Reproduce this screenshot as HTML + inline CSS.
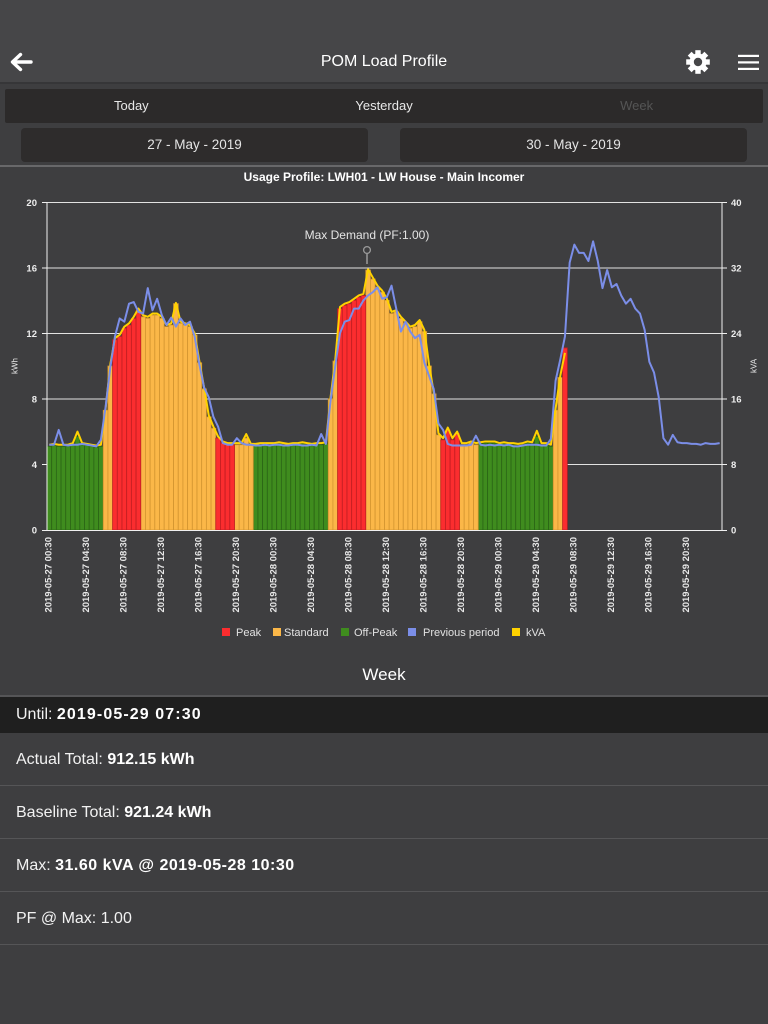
<!DOCTYPE html>
<html><head><meta charset="utf-8">
<style>
*{margin:0;padding:0;box-sizing:border-box}
html,body{width:768px;height:1024px;overflow:hidden;background:#3e3e40;font-family:"Liberation Sans",Arial,sans-serif;color:#fff}
.a{position:absolute}
#hdr{left:0;top:0;width:768px;height:84px;background:#464648;border-bottom:2px solid #363638}
#title{left:0;top:52px;width:768px;text-align:center;font-size:16px;line-height:20px;color:#fff}
#tabs{left:5px;top:89px;width:758px;height:34px;background:#2c2a2a;border-radius:2px}
.tab{position:absolute;top:0;width:252.7px;height:34px;line-height:34px;text-align:center;font-size:13px;color:#e8e8e8}
.btn{position:absolute;top:128px;width:347px;height:34px;background:#2e2c2c;border-radius:4px;text-align:center;line-height:34px;font-size:13.5px;color:#e4e4e4}
#sep1{left:0;top:165px;width:768px;height:2px;background:#68686a}
#week{left:0;top:664px;width:768px;text-align:center;font-size:17px;line-height:22px;color:#fff}
#sep2{left:0;top:695px;width:768px;height:2px;background:#555557}
.row{position:absolute;left:0;width:768px;padding-left:16px;font-size:16px;color:#f2f2f2}
.row b{font-weight:bold;color:#fff}
#until{top:697px;height:36px;line-height:36px;background:#1f1f1f}
.r{height:53px;line-height:53px;border-bottom:1.5px solid #555557}
svg{position:absolute;left:0;top:0}
.g rect{fill:#3f8c1e;stroke:#2b6516;stroke-width:.8px;vector-effect:non-scaling-stroke}
.s rect{fill:#fbb748;stroke:#d39530;stroke-width:.8px;vector-effect:non-scaling-stroke}
.p rect{fill:#fb2d2f;stroke:#c01e22;stroke-width:.8px;vector-effect:non-scaling-stroke}
.xl{font:bold 9.5px "Liberation Sans",Arial,sans-serif;fill:#e8e8e8}
.yl{font:bold 9.5px "Liberation Sans",Arial,sans-serif;fill:#eeeeee}
.lg{font:11px "Liberation Sans",Arial,sans-serif;fill:#e2e2e2}
</style></head>
<body>
<div id="hdr" class="a"></div>
<div id="title" class="a">POM Load Profile</div>
<div id="tabs" class="a">
<div class="tab" style="left:0">Today</div>
<div class="tab" style="left:252.7px">Yesterday</div>
<div class="tab" style="left:505.3px;color:#555555">Week</div>
</div>
<div class="btn" style="left:21px">27 - May - 2019</div>
<div class="btn" style="left:400px">30 - May - 2019</div>
<div id="sep1" class="a"></div>
<div id="week" class="a">Week</div>
<div id="sep2" class="a"></div>
<div id="until" class="row">Until: <b style="letter-spacing:1.1px">2019-05-29 07:30</b></div>
<div class="row r" style="top:733px">Actual Total: <b>912.15 kWh</b></div>
<div class="row r" style="top:786px">Baseline Total: <b>921.24 kWh</b></div>
<div class="row r" style="top:839px">Max: <b style="letter-spacing:0.5px">31.60 kVA @ 2019-05-28 10:30</b></div>
<div class="row r" style="top:892px">PF @ Max: 1.00</div>

<svg width="768" height="1024" viewBox="0 0 768 1024">
<g stroke="#fff" stroke-width="3.4" fill="none" stroke-linecap="round" stroke-linejoin="round">
<path d="M31 62 H13"/><path d="M20.5 54.5 L12.5 62 L20.5 69.5"/>
</g>
<g transform="translate(698,62)" fill="#fff">
<circle r="8.6"/>
<rect x="-2.7" y="-11.8" width="5.4" height="6"/>
<rect x="-2.7" y="-11.8" width="5.4" height="6" transform="rotate(45)"/>
<rect x="-2.7" y="-11.8" width="5.4" height="6" transform="rotate(90)"/>
<rect x="-2.7" y="-11.8" width="5.4" height="6" transform="rotate(135)"/>
<rect x="-2.7" y="-11.8" width="5.4" height="6" transform="rotate(180)"/>
<rect x="-2.7" y="-11.8" width="5.4" height="6" transform="rotate(225)"/>
<rect x="-2.7" y="-11.8" width="5.4" height="6" transform="rotate(270)"/>
<rect x="-2.7" y="-11.8" width="5.4" height="6" transform="rotate(315)"/>
<circle r="4.2" fill="#464648"/>
</g>
<g fill="#fff">
<rect x="738" y="54.8" width="21" height="2.2"/>
<rect x="738" y="61.3" width="21" height="2.2"/>
<rect x="738" y="67.8" width="21" height="2.2"/>
</g>

<text x="384" y="181" text-anchor="middle" style="font:bold 12px 'Liberation Sans',Arial,sans-serif;fill:#fff">Usage Profile: LWH01 - LW House - Main Incomer</text>

<g stroke="#e2e2e2" stroke-width="1">
<line x1="47" y1="202.5" x2="722" y2="202.5"/>
<line x1="47" y1="268" x2="722" y2="268"/>
<line x1="47" y1="333.5" x2="722" y2="333.5"/>
<line x1="47" y1="399" x2="722" y2="399"/>
<line x1="47" y1="464.5" x2="722" y2="464.5"/>
</g>

<g transform="translate(47 530) scale(4.6875 -16.4)">
<g class="g">
<rect x="0" width="1" height="5.1"/><rect x="1" width="1" height="5.15"/><rect x="2" width="1" height="5.1"/><rect x="3" width="1" height="5.1"/><rect x="4" width="1" height="5.1"/><rect x="5" width="1" height="5.2"/><rect x="6" width="1" height="5.7"/><rect x="7" width="1" height="5.2"/><rect x="8" width="1" height="5.15"/><rect x="9" width="1" height="5.1"/><rect x="10" width="1" height="5.05"/><rect x="11" width="1" height="5.1"/>
<rect x="44" width="1" height="5.15"/><rect x="45" width="1" height="5.2"/><rect x="46" width="1" height="5.2"/><rect x="47" width="1" height="5.2"/><rect x="48" width="1" height="5.2"/><rect x="49" width="1" height="5.25"/><rect x="50" width="1" height="5.2"/><rect x="51" width="1" height="5.15"/><rect x="52" width="1" height="5.2"/><rect x="53" width="1" height="5.2"/><rect x="54" width="1" height="5.25"/><rect x="55" width="1" height="5.2"/><rect x="56" width="1" height="5.15"/><rect x="57" width="1" height="5.2"/><rect x="58" width="1" height="5.2"/><rect x="59" width="1" height="5.25"/>
<rect x="92" width="1" height="5.25"/><rect x="93" width="1" height="5.3"/><rect x="94" width="1" height="5.3"/><rect x="95" width="1" height="5.3"/><rect x="96" width="1" height="5.2"/><rect x="97" width="1" height="5.25"/><rect x="98" width="1" height="5.2"/><rect x="99" width="1" height="5.2"/><rect x="100" width="1" height="5.15"/><rect x="101" width="1" height="5.2"/><rect x="102" width="1" height="5.3"/><rect x="103" width="1" height="5.25"/><rect x="104" width="1" height="5.7"/><rect x="105" width="1" height="5.2"/><rect x="106" width="1" height="5.2"/><rect x="107" width="1" height="5.1"/>
</g>
<g class="s">
<rect x="12" width="1" height="7.3"/><rect x="13" width="1" height="10.0"/>
<rect x="20" width="1" height="13.0"/><rect x="21" width="1" height="12.9"/><rect x="22" width="1" height="13.1"/><rect x="23" width="1" height="13.1"/><rect x="24" width="1" height="12.9"/><rect x="25" width="1" height="12.4"/><rect x="26" width="1" height="12.5"/><rect x="27" width="1" height="13.8"/><rect x="28" width="1" height="12.6"/><rect x="29" width="1" height="12.5"/><rect x="30" width="1" height="12.4"/><rect x="31" width="1" height="11.9"/><rect x="32" width="1" height="10.2"/><rect x="33" width="1" height="8.6"/><rect x="34" width="1" height="6.9"/><rect x="35" width="1" height="6.2"/>
<rect x="40" width="1" height="5.2"/><rect x="41" width="1" height="5.2"/><rect x="42" width="1" height="5.6"/><rect x="43" width="1" height="5.15"/>
<rect x="60" width="1" height="8.0"/><rect x="61" width="1" height="10.3"/>
<rect x="68" width="1" height="15.85"/><rect x="69" width="1" height="15.3"/><rect x="70" width="1" height="14.8"/><rect x="71" width="1" height="14.5"/><rect x="72" width="1" height="14.0"/><rect x="73" width="1" height="13.2"/><rect x="74" width="1" height="13.3"/><rect x="75" width="1" height="12.9"/><rect x="76" width="1" height="12.6"/><rect x="77" width="1" height="12.3"/><rect x="78" width="1" height="12.4"/><rect x="79" width="1" height="12.7"/><rect x="80" width="1" height="12.1"/><rect x="81" width="1" height="10.0"/><rect x="82" width="1" height="8.3"/><rect x="83" width="1" height="5.8"/>
<rect x="88" width="1" height="5.2"/><rect x="89" width="1" height="5.2"/><rect x="90" width="1" height="5.3"/><rect x="91" width="1" height="5.2"/>
<rect x="108" width="1" height="7.3"/><rect x="109" width="1" height="9.3"/>
</g>
<g class="p">
<rect x="14" width="1" height="11.6"/><rect x="15" width="1" height="11.8"/><rect x="16" width="1" height="12.3"/><rect x="17" width="1" height="12.5"/><rect x="18" width="1" height="12.9"/><rect x="19" width="1" height="13.4"/>
<rect x="36" width="1" height="5.6"/><rect x="37" width="1" height="5.3"/><rect x="38" width="1" height="5.2"/><rect x="39" width="1" height="5.2"/>
<rect x="62" width="1" height="13.5"/><rect x="63" width="1" height="13.7"/><rect x="64" width="1" height="13.8"/><rect x="65" width="1" height="14.0"/><rect x="66" width="1" height="14.2"/><rect x="67" width="1" height="14.3"/>
<rect x="84" width="1" height="5.5"/><rect x="85" width="1" height="6.1"/><rect x="86" width="1" height="5.5"/><rect x="87" width="1" height="5.9"/>
<rect x="110" width="1" height="11.1"/>
</g>

<polyline fill="none" stroke="#ffd200" stroke-width="2" stroke-linejoin="round" vector-effect="non-scaling-stroke" points="0.5,5.2 1.5,5.25 2.5,5.2 3.5,5.2 4.5,5.2 5.5,5.3 6.5,6.0 7.5,5.3 8.5,5.25 9.5,5.2 10.5,5.15 11.5,5.2 12.5,7.4 13.5,10.1 14.5,11.7 15.5,11.9 16.5,12.4 17.5,12.6 18.5,13.0 19.5,13.5 20.5,13.1 21.5,13.0 22.5,13.2 23.5,13.2 24.5,13.0 25.5,12.5 26.5,12.6 27.5,13.85 28.5,12.7 29.5,12.6 30.5,12.5 31.5,12.0 32.5,10.3 33.5,8.7 34.5,7.0 35.5,6.3 36.5,5.7 37.5,5.4 38.5,5.3 39.5,5.3 40.5,5.3 41.5,5.3 42.5,5.85 43.5,5.25 44.5,5.25 45.5,5.3 46.5,5.3 47.5,5.3 48.5,5.3 49.5,5.35 50.5,5.3 51.5,5.25 52.5,5.3 53.5,5.3 54.5,5.35 55.5,5.3 56.5,5.25 57.5,5.3 58.5,5.3 59.5,5.35 60.5,8.1 61.5,10.4 62.5,13.6 63.5,13.8 64.5,13.9 65.5,14.1 66.5,14.3 67.5,14.4 68.5,15.9 69.5,15.4 70.5,14.9 71.5,14.6 72.5,14.1 73.5,13.3 74.5,13.4 75.5,13.0 76.5,12.7 77.5,12.4 78.5,12.5 79.5,12.8 80.5,12.2 81.5,10.1 82.5,8.4 83.5,5.9 84.5,5.6 85.5,6.25 86.5,5.6 87.5,6.0 88.5,5.3 89.5,5.3 90.5,5.4 91.5,5.3 92.5,5.35 93.5,5.4 94.5,5.4 95.5,5.4 96.5,5.3 97.5,5.35 98.5,5.3 99.5,5.3 100.5,5.25 101.5,5.3 102.5,5.4 103.5,5.35 104.5,6.05 105.5,5.3 106.5,5.3 107.5,5.2 108.5,7.4 109.5,9.4 110.5,10.8"/>

<polyline fill="none" stroke="#7b8ee8" stroke-width="2" stroke-linejoin="round" vector-effect="non-scaling-stroke" points="0.5,5.2 1.5,5.2 2.5,6.1 3.5,5.2 4.5,5.15 5.5,5.2 6.5,5.2 7.5,5.25 8.5,5.2 9.5,5.15 10.5,5.1 11.5,5.5 12.5,7.5 13.5,9.9 14.5,11.8 15.5,12.9 16.5,12.7 17.5,13.8 18.5,13.9 19.5,13.3 20.5,13.2 21.5,14.75 22.5,13.4 23.5,14.1 24.5,13.1 25.5,12.5 26.5,12.95 27.5,12.4 28.5,12.9 29.5,12.5 30.5,12.7 31.5,11.8 32.5,10.1 33.5,8.7 34.5,8.1 35.5,6.9 36.5,6.3 37.5,5.3 38.5,5.2 39.5,5.2 40.5,5.6 41.5,5.3 42.5,5.2 43.5,5.2 44.5,5.15 45.5,5.15 46.5,5.2 47.5,5.15 48.5,5.2 49.5,5.2 50.5,5.15 51.5,5.15 52.5,5.2 53.5,5.2 54.5,5.15 55.5,5.15 56.5,5.2 57.5,5.15 58.5,5.85 59.5,5.25 60.5,7.9 61.5,10.0 62.5,12.0 63.5,12.7 64.5,12.8 65.5,13.5 66.5,13.5 67.5,14.0 68.5,14.3 69.5,14.5 70.5,14.8 71.5,14.1 72.5,14.2 73.5,14.9 74.5,13.5 75.5,12.1 76.5,12.7 77.5,12.1 78.5,11.7 79.5,11.9 80.5,10.2 81.5,9.4 82.5,8.6 83.5,6.5 84.5,6.1 85.5,5.25 86.5,5.15 87.5,5.15 88.5,5.15 89.5,5.15 90.5,5.2 91.5,5.75 92.5,5.2 93.5,5.15 94.5,5.2 95.5,5.15 96.5,5.2 97.5,5.15 98.5,5.2 99.5,5.1 100.5,5.1 101.5,5.15 102.5,5.2 103.5,5.2 104.5,5.2 105.5,5.15 106.5,5.15 107.5,5.55 108.5,9.1 109.5,10.4 110.5,11.8 111.5,16.3 112.5,17.4 113.5,16.9 114.5,16.9 115.5,16.4 116.5,17.6 117.5,16.4 118.5,14.75 119.5,15.85 120.5,14.8 121.5,15.0 122.5,14.3 123.5,13.8 124.5,14.1 125.5,13.5 126.5,13.2 127.5,12.2 128.5,10.25 129.5,9.6 130.5,8.1 131.5,5.6 132.5,5.2 133.5,5.8 134.5,5.35 135.5,5.3 136.5,5.3 137.5,5.25 138.5,5.25 139.5,5.2 140.5,5.3 141.5,5.25 142.5,5.25 143.5,5.3"/>
</g>

<g stroke="#f0f0f0" stroke-width="1">
<line x1="47" y1="202" x2="47" y2="530.5"/>
<line x1="722" y1="202" x2="722" y2="530.5"/>
<line x1="42" y1="530.5" x2="727" y2="530.5"/>
<line x1="42" y1="202.5" x2="47" y2="202.5"/>
<line x1="42" y1="268" x2="47" y2="268"/>
<line x1="42" y1="333.5" x2="47" y2="333.5"/>
<line x1="42" y1="399" x2="47" y2="399"/>
<line x1="42" y1="464.5" x2="47" y2="464.5"/>
<line x1="722" y1="202.5" x2="727" y2="202.5"/>
<line x1="722" y1="268" x2="727" y2="268"/>
<line x1="722" y1="333.5" x2="727" y2="333.5"/>
<line x1="722" y1="399" x2="727" y2="399"/>
<line x1="722" y1="464.5" x2="727" y2="464.5"/>
</g>

<g class="yl" text-anchor="end">
<text x="37" y="206">20</text>
<text x="37" y="271.5">16</text>
<text x="37" y="337">12</text>
<text x="37" y="402.5">8</text>
<text x="37" y="468">4</text>
<text x="37" y="533.5">0</text>
</g>
<g class="yl">
<text x="731" y="206">40</text>
<text x="731" y="271.5">32</text>
<text x="731" y="337">24</text>
<text x="731" y="402.5">16</text>
<text x="731" y="468">8</text>
<text x="731" y="533.5">0</text>
</g>
<text transform="translate(17.5,366) rotate(-90)" text-anchor="middle" style="font:8px 'Liberation Sans',Arial,sans-serif;fill:#e8e8e8">kWh</text>
<text transform="translate(756.5,366) rotate(-90)" text-anchor="middle" style="font:8px 'Liberation Sans',Arial,sans-serif;fill:#e8e8e8">kVA</text>

<text x="367" y="239" text-anchor="middle" style="font:12px 'Liberation Sans',Arial,sans-serif;fill:#e4e4e4">Max Demand (PF:1.00)</text>
<line x1="367" y1="253.5" x2="367" y2="264" stroke="#9a9a9a" stroke-width="1.5"/>
<circle cx="367" cy="250" r="3.4" fill="none" stroke="#9a9a9a" stroke-width="1.3"/>

<g class="xl" text-anchor="end">
<text transform="translate(51.7,537) rotate(-90)">2019-05-27 00:30</text>
<text transform="translate(89.2,537) rotate(-90)">2019-05-27 04:30</text>
<text transform="translate(126.7,537) rotate(-90)">2019-05-27 08:30</text>
<text transform="translate(164.2,537) rotate(-90)">2019-05-27 12:30</text>
<text transform="translate(201.7,537) rotate(-90)">2019-05-27 16:30</text>
<text transform="translate(239.2,537) rotate(-90)">2019-05-27 20:30</text>
<text transform="translate(276.7,537) rotate(-90)">2019-05-28 00:30</text>
<text transform="translate(314.2,537) rotate(-90)">2019-05-28 04:30</text>
<text transform="translate(351.7,537) rotate(-90)">2019-05-28 08:30</text>
<text transform="translate(389.2,537) rotate(-90)">2019-05-28 12:30</text>
<text transform="translate(426.7,537) rotate(-90)">2019-05-28 16:30</text>
<text transform="translate(464.2,537) rotate(-90)">2019-05-28 20:30</text>
<text transform="translate(501.7,537) rotate(-90)">2019-05-29 00:30</text>
<text transform="translate(539.2,537) rotate(-90)">2019-05-29 04:30</text>
<text transform="translate(576.7,537) rotate(-90)">2019-05-29 08:30</text>
<text transform="translate(614.2,537) rotate(-90)">2019-05-29 12:30</text>
<text transform="translate(651.7,537) rotate(-90)">2019-05-29 16:30</text>
<text transform="translate(689.2,537) rotate(-90)">2019-05-29 20:30</text>
</g>

<rect x="222" y="628" width="8" height="8" fill="#fb2d2f"/>
<text class="lg" x="236" y="636">Peak</text>
<rect x="273" y="628" width="8" height="8" fill="#fbb748"/>
<text class="lg" x="284" y="636">Standard</text>
<rect x="341" y="628" width="8" height="8" fill="#3f8c1e"/>
<text class="lg" x="354" y="636">Off-Peak</text>
<rect x="408" y="628" width="8" height="8" fill="#7b8ee8"/>
<text class="lg" x="423" y="636">Previous period</text>
<rect x="512" y="628" width="8" height="8" fill="#ffd200"/>
<text class="lg" x="526" y="636">kVA</text>
</svg>
</body></html>
